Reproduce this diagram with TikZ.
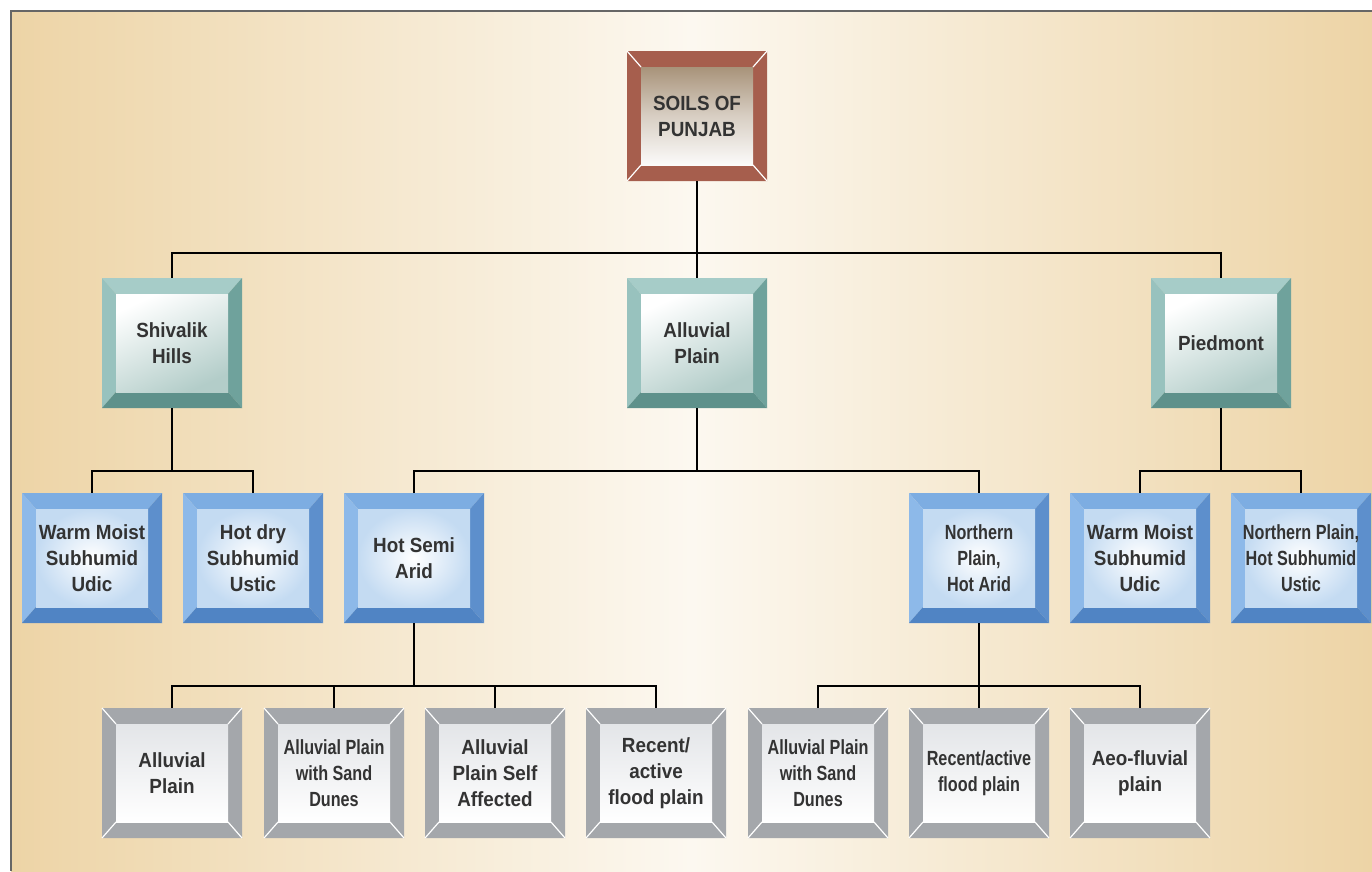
\documentclass[tikz,border=0pt]{standalone}
\usepackage{fontspec}
\setmainfont{Liberation Sans}
\newfontfamily\fN[FakeStretch=0.92]{Liberation Sans}
\newfontfamily\fC[FakeStretch=0.79]{Liberation Sans}
\definecolor{bgE}{HTML}{EDD4A6}
\definecolor{bgM}{HTML}{FCF8F0}
\definecolor{txt}{HTML}{333333}
\definecolor{brn}{HTML}{A65E4D}
\definecolor{brnI}{HTML}{A8937A}
\definecolor{tlT}{HTML}{A6CCC8}
\definecolor{tlL}{HTML}{98C2BE}
\definecolor{tlR}{HTML}{6FA29C}
\definecolor{tlB}{HTML}{5E918B}
\definecolor{tlI}{HTML}{B3CDC9}
\definecolor{blT}{HTML}{7DADE2}
\definecolor{blL}{HTML}{8DB9E9}
\definecolor{blR}{HTML}{5D8FCC}
\definecolor{blB}{HTML}{5084C4}
\definecolor{blI}{HTML}{C4DBF2}
\definecolor{gry}{HTML}{A4A7AB}
\definecolor{gryI}{HTML}{E3E5E8}
\tikzset{
  conn/.style={draw=black, line width=2pt},
  boxtext/.style={text=txt, align=center, inner sep=0pt, minimum width=140pt, minimum height=130pt},
  nf/.style={font=\fN\bfseries\fontsize{20.5}{26}\selectfont},
  cf/.style={font=\fC\bfseries\fontsize{20.5}{26}\selectfont},
  brT/.style={fill=brn}, brL/.style={fill=brn}, brR/.style={fill=brn}, brB/.style={fill=brn},
  brIn/.style={top color=brnI, bottom color=white!96!brnI, middle color=brnI!45!white},
  brLn/.style={draw=white, line width=1.2pt},
  tlT/.style={fill=tlT}, tlL/.style={fill=tlL}, tlR/.style={fill=tlR}, tlB/.style={fill=tlB},
  tlIn/.style={top color=white, bottom color=tlI, shading angle=25},
  tlLn/.style={},
  blT/.style={fill=blT}, blL/.style={fill=blL}, blR/.style={fill=blR}, blB/.style={fill=blB},
  blIn/.style={inner color=white, outer color=blI},
  blLn/.style={},
  grT/.style={fill=gry}, grL/.style={fill=gry}, grR/.style={fill=gry}, grB/.style={fill=gry},
  grIn/.style={top color=gryI, bottom color=white},
  grLn/.style={draw=white, line width=1.2pt},
}
% #1 name, #2 cx, #3 cy, #4 scheme prefix, #5 font style, #6 text
\newcommand\bevbox[6]{%
  \begin{scope}[shift={(#2,#3)}]
    \fill[#4T] (-70,-65) -- (70,-65) -- (56,-49) -- (-56,-49) -- cycle;
    \fill[#4L] (-70,-65) -- (-56,-49) -- (-56,49) -- (-70,65) -- cycle;
    \fill[#4R] (70,-65) -- (56,-49) -- (56,49) -- (70,65) -- cycle;
    \fill[#4B] (-70,65) -- (70,65) -- (56,49) -- (-56,49) -- cycle;
    \shade[#4In] (-56,-49) rectangle (56,49);
    \path[#4Ln] (-70,-65) -- (-56,-49) (70,-65) -- (56,-49) (-70,65) -- (-56,49) (70,65) -- (56,49);
  \end{scope}
  \node[boxtext, #5] (#1) at (#2,#3) {#6};
}
\begin{document}
\begin{tikzpicture}[x=1pt, y=-1pt]
\useasboundingbox (0,0) rectangle (1372,871);
\fill[white] (0,0) rectangle (1372,871);
\fill[left color=bgE, right color=bgE, middle color=bgM] (11,11) rectangle (1372,871);
\draw[draw=black!60, line width=1.5pt] (11,871) -- (11,11) -- (1372,11);

% level 1
\bevbox{root}{697}{116}{br}{nf}{SOILS OF\\PUNJAB}
% level 2
\bevbox{shiv}{172}{343}{tl}{nf}{Shivalik\\Hills}
\bevbox{allu}{697}{343}{tl}{nf}{Alluvial\\Plain}
\bevbox{pied}{1221}{343}{tl}{nf}{Piedmont}
% level 3
\bevbox{wm1}{92}{558}{bl}{nf}{Warm Moist\\Subhumid\\Udic}
\bevbox{hd}{253}{558}{bl}{nf}{Hot dry\\Subhumid\\Ustic}
\bevbox{hsa}{414}{558}{bl}{nf}{Hot Semi\\Arid}
\bevbox{npha}{979}{558}{bl}{cf}{Northern\\Plain,\\Hot Arid}
\bevbox{wm2}{1140}{558}{bl}{nf}{Warm Moist\\Subhumid\\Udic}
\bevbox{nphs}{1301}{558}{bl}{cf}{Northern Plain,\\Hot Subhumid\\Ustic}
% level 4
\bevbox{g1}{172}{773}{gr}{nf}{Alluvial\\Plain}
\bevbox{g2}{334}{773}{gr}{cf}{Alluvial Plain\\with Sand\\Dunes}
\bevbox{g3}{495}{773}{gr}{nf}{Alluvial\\Plain Self\\Affected}
\bevbox{g4}{656}{773}{gr}{nf}{Recent/\\active\\flood plain}
\bevbox{g5}{818}{773}{gr}{cf}{Alluvial Plain\\with Sand\\Dunes}
\bevbox{g6}{979}{773}{gr}{cf}{Recent/active\\flood plain}
\bevbox{g7}{1140}{773}{gr}{nf}{Aeo-fluvial\\plain}

% connectors
\draw[conn] (root.south) -- (allu.north);
\draw[conn] (shiv.north) -- ++(0,-25) -| (pied.north);

\draw[conn] (shiv.south) -- ++(0,63);
\draw[conn] (wm1.north) -- ++(0,-22) -| (hd.north);
\draw[conn] (allu.south) -- ++(0,63);
\draw[conn] (hsa.north) -- ++(0,-22) -| (npha.north);
\draw[conn] (pied.south) -- ++(0,63);
\draw[conn] (wm2.north) -- ++(0,-22) -| (nphs.north);

\draw[conn] (hsa.south) -- ++(0,64);
\draw[conn] (g1.north) -- ++(0,-22) -| (g4.north);
\draw[conn] (g2.north) -- ++(0,-22);
\draw[conn] (g3.north) -- ++(0,-22);
\draw[conn] (npha.south) -- ++(0,64);
\draw[conn] (g5.north) -- ++(0,-22) -| (g7.north);
\draw[conn] (g6.north) -- ++(0,-22);
\end{tikzpicture}
\end{document}
